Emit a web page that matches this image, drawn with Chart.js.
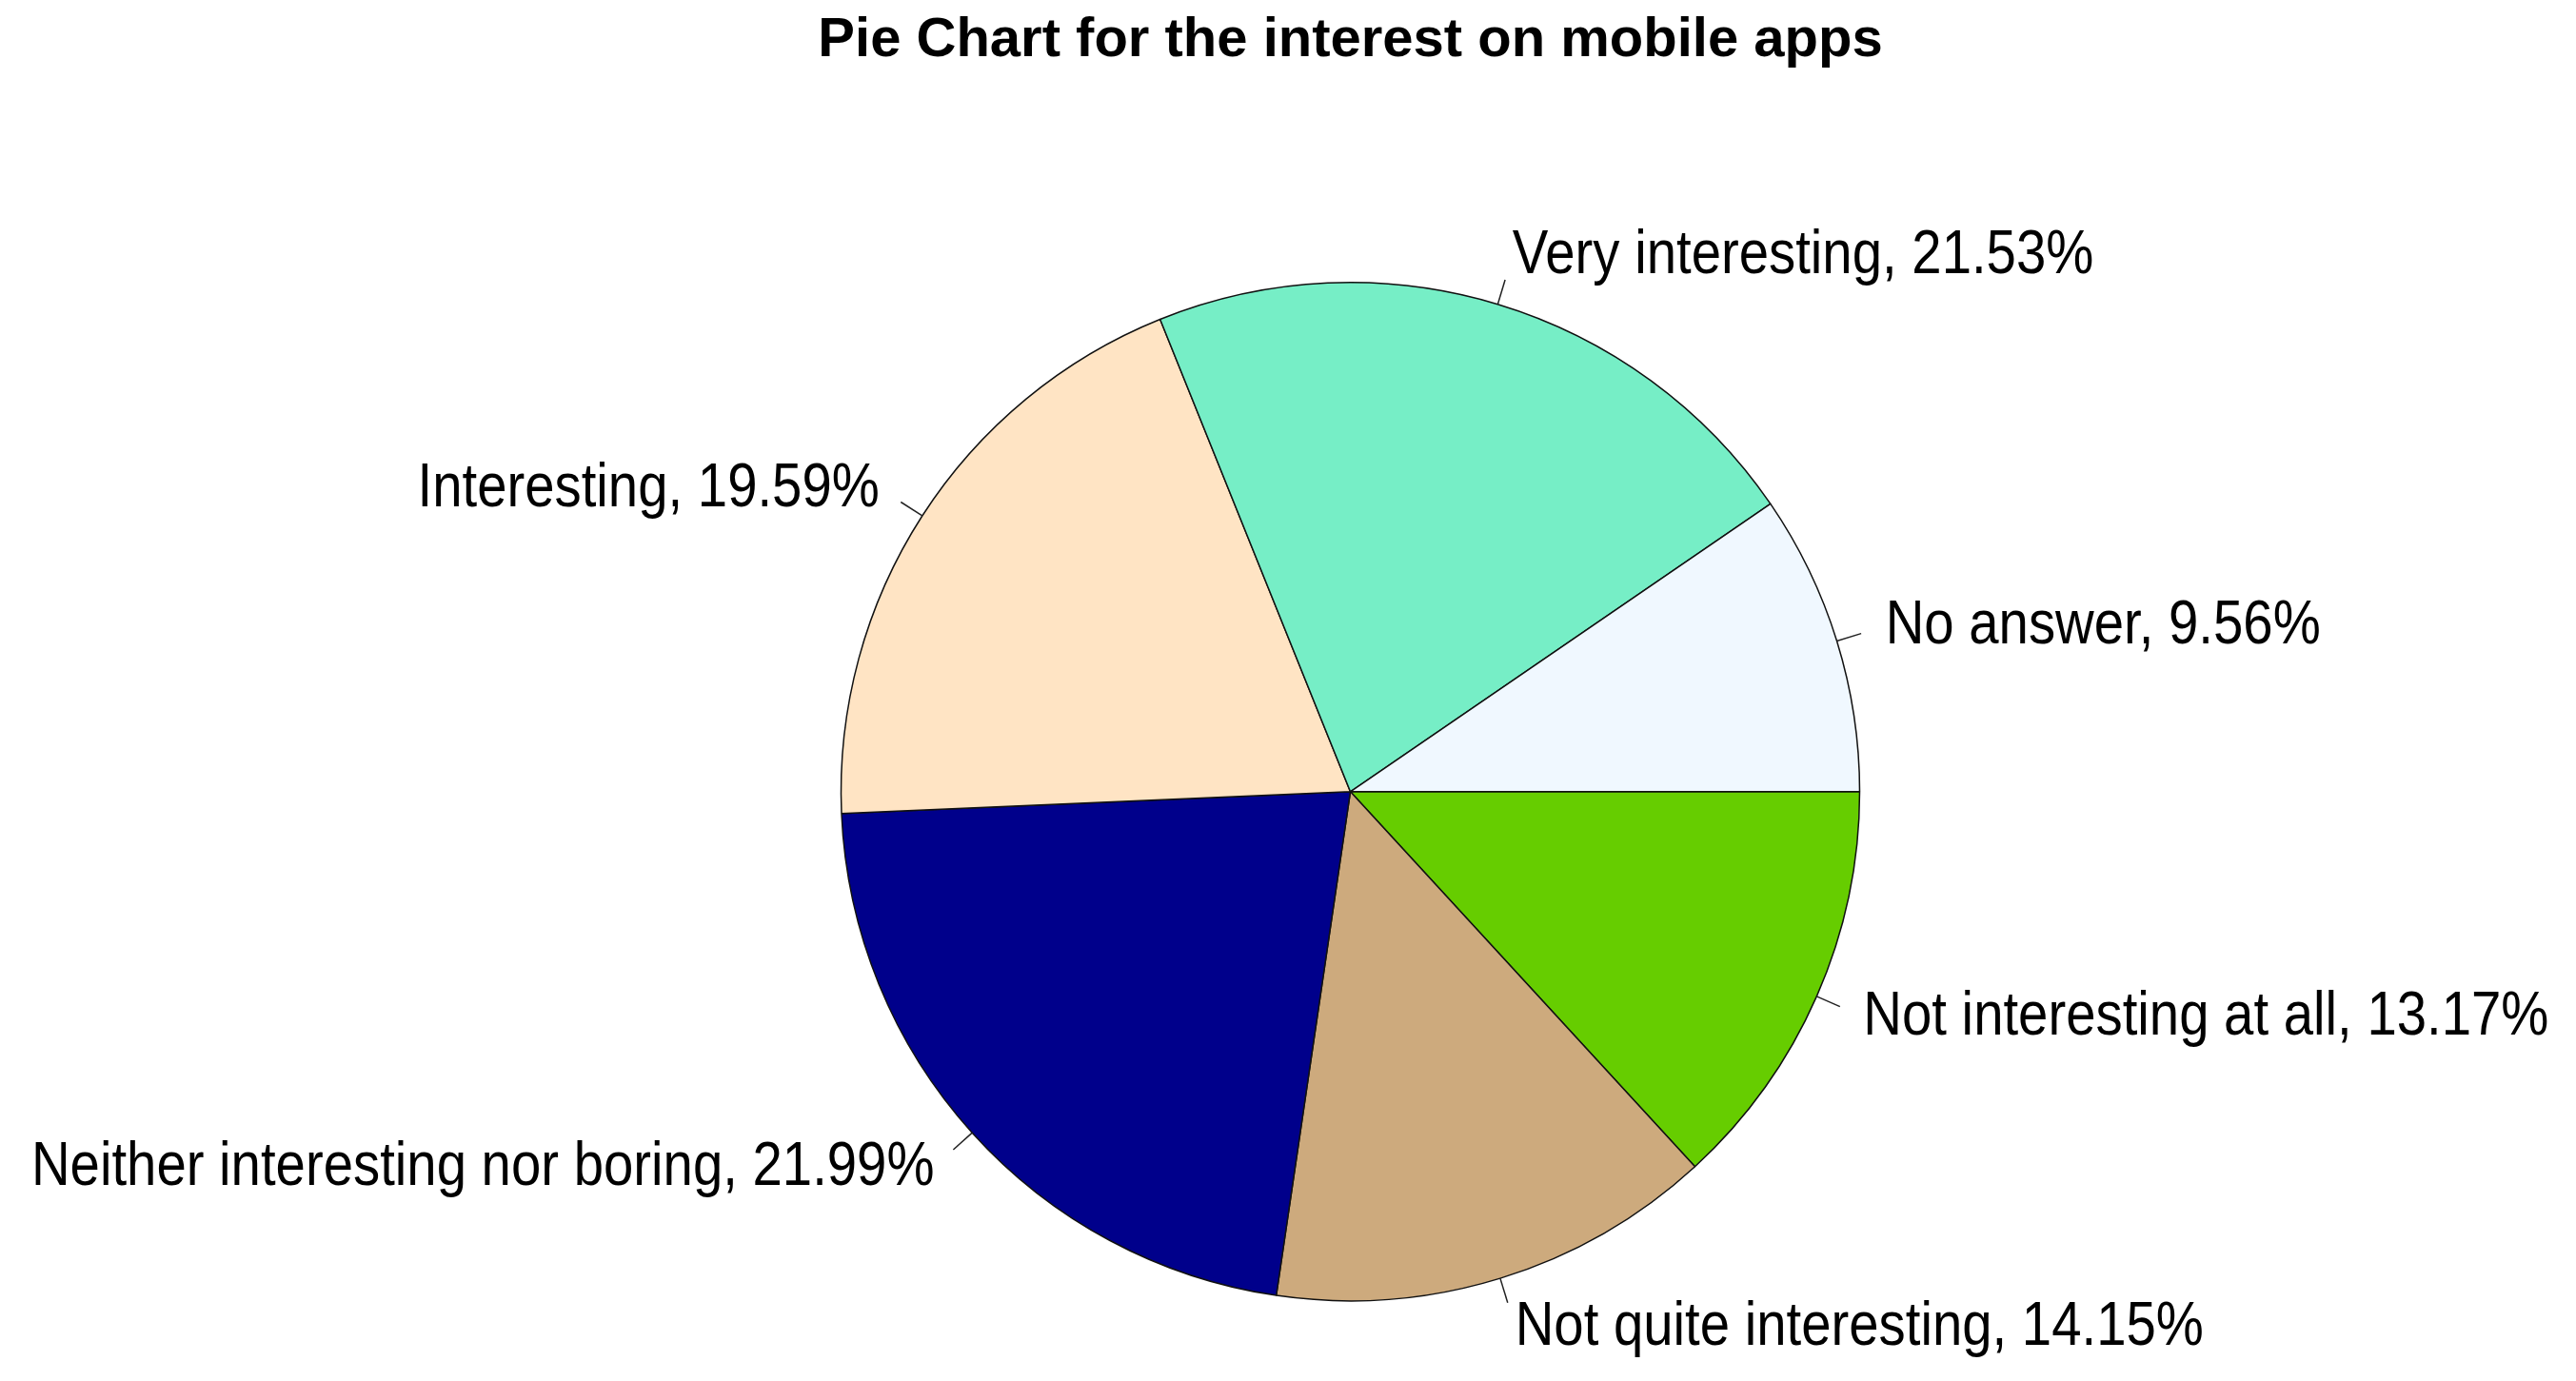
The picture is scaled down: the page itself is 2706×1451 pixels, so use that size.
<!DOCTYPE html>
<html>
<head>
<meta charset="utf-8">
<script src="https://cdn.jsdelivr.net/npm/chart.js@4/dist/chart.umd.min.js"></script>
<style>
  html, body { margin: 0; padding: 0; background: #fff; }
</style>
</head>
<body>
<canvas id="pieChart" width="2706" height="1451"></canvas>
<script>
// categories in the order R draws them (counter-clockwise from 3 o'clock)
let labels = ['No answer', 'Very interesting', 'Interesting', 'Neither interesting nor boring', 'Not quite interesting', 'Not interesting at all'];
let shares = [9.56, 21.53, 19.59, 21.99, 14.15, 13.17];
let colorHex = ['#F0F8FF', '#76EEC6', '#FFE4C4', '#00008B', '#CDAA7D', '#66CD00'];

// chart.js goes clockwise, so flip the order and start at 3 o'clock
let cwLabels = labels.slice().reverse();
let cwShares = shares.slice().reverse();
let cwColors = colorHex.slice().reverse();

const labelSize = 64;

// R style pie labels: short tick out of the slice middle, text at 1.1 * radius
const rLabels = {
    id: 'rLabels',
    afterDatasetsDraw(chart) {
        let ctx = chart.ctx;
        let meta = chart.getDatasetMeta(0);
        let ds = chart.data.datasets[0];
        ctx.save();
        meta.data.forEach((arc, i) => {
            let mid = (arc.startAngle + arc.endAngle) / 2;
            let r = arc.outerRadius;
            let c = Math.cos(mid), s = Math.sin(mid);
            ctx.beginPath();
            ctx.moveTo(arc.x + r * c, arc.y + r * s);
            ctx.lineTo(arc.x + 1.05 * r * c, arc.y + 1.05 * r * s);
            ctx.strokeStyle = '#222';
            ctx.lineWidth = 1.5;
            ctx.stroke();

            let text = chart.data.labels[i] + ', ' + ds.data[i].toFixed(2) + '%';
            ctx.save();
            ctx.translate(arc.x + 1.1 * r * c, arc.y + 1.1 * r * s + 0.29 * labelSize);
            ctx.scale(0.88, 1);
            ctx.font = labelSize + 'px "Liberation Sans", Arial, sans-serif';
            ctx.fillStyle = '#000';
            ctx.textAlign = c < 0 ? 'right' : 'left';
            ctx.textBaseline = 'alphabetic';
            ctx.fillText(text, 0, 0);
            ctx.restore();
        });
        ctx.restore();
    }
};

let ctx = document.getElementById('pieChart').getContext('2d');

let pieChart = new Chart(ctx, {
    type: 'pie',
    data: {
        labels: cwLabels,
        datasets: [{
            data: cwShares,
            backgroundColor: cwColors,
            borderColor: '#111',
            borderWidth: 1.5,
            radius: 535
        }]
    },
    options: {
        responsive: false,
        animation: false,
        rotation: 90,
        layout: {
            padding: { left: 131, right: 0, top: 0, bottom: 0 }
        },
        plugins: {
            legend: { display: false },
            tooltip: { enabled: false },
            title: {
                display: true,
                text: 'Pie Chart for the interest on mobile apps',
                color: '#000',
                font: { family: '"Liberation Sans", Arial, sans-serif', size: 58, weight: 'bold' },
                padding: { top: 8, bottom: 135 }
            }
        }
    },
    plugins: [rLabels]
});
</script>
</body>
</html>
